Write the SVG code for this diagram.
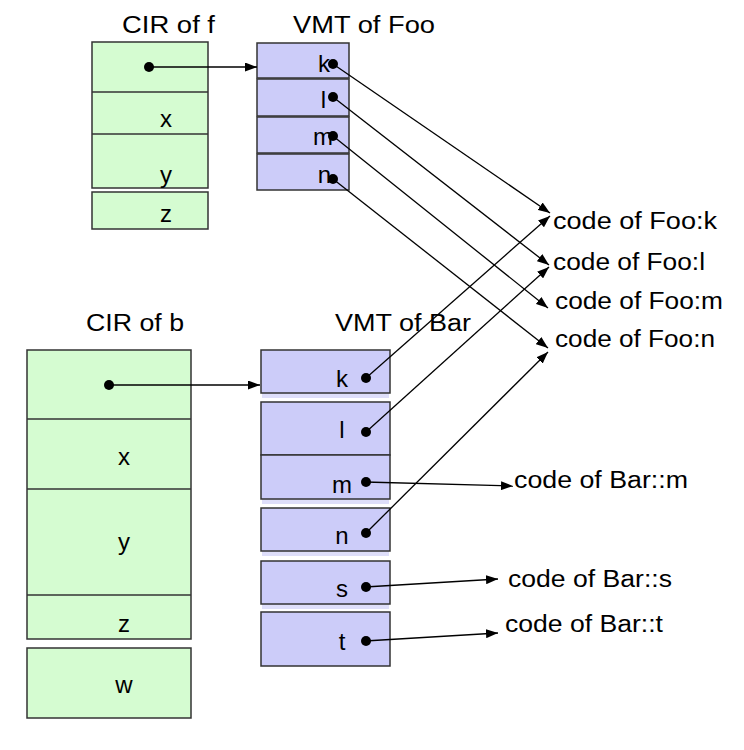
<svg xmlns="http://www.w3.org/2000/svg" width="744" height="750" viewBox="0 0 744 750">
<style>
text{font-family:"Liberation Sans",Arial,sans-serif;font-size:23px;fill:#000}
.cir{fill:#d5fcd1;stroke:#333;stroke-width:1.5}
.vmt{fill:#ccccf9;stroke:#333;stroke-width:1.5}
.gap{fill:#dedefa}
.div{stroke:#333;stroke-width:1.5}
.c{text-anchor:middle;font-size:24px}
.e{text-anchor:end;font-size:24px}
.ln{stroke:#000;stroke-width:1.3;fill:none;marker-end:url(#ah)}
.dot{fill:#000}
</style>
<defs>
<marker id="ah" viewBox="0 0 12 9" refX="12" refY="4.5" markerWidth="12" markerHeight="9" markerUnits="userSpaceOnUse" orient="auto">
<path d="M0,0 L12,4.5 L0,9 Z" fill="#000"/>
</marker>
</defs>
<rect width="744" height="750" fill="#fff"/>

<g id="cir-f">
<text x="122" y="33" textLength="93" lengthAdjust="spacingAndGlyphs">CIR of f</text>
<rect class="cir" x="92" y="42" width="116" height="146"/>
<line class="div" x1="92" y1="92" x2="208" y2="92"/>
<line class="div" x1="92" y1="134" x2="208" y2="134"/>
<rect class="cir" x="92" y="192" width="116" height="37"/>
<text class="c" x="166" y="127">x</text>
<text class="c" x="166" y="183">y</text>
<text class="c" x="166" y="222">z</text>
</g>

<g id="vmt-foo">
<text x="293" y="33" textLength="142" lengthAdjust="spacingAndGlyphs">VMT of Foo</text>
<rect class="vmt" x="257" y="43" width="92" height="35"/>
<rect class="vmt" x="257" y="79" width="92" height="37"/>
<rect class="vmt" x="257" y="117" width="92" height="36"/>
<rect class="vmt" x="257" y="154" width="92" height="36"/>
<text class="e" x="330" y="72">k</text>
<text class="e" x="326" y="108">l</text>
<text class="e" x="333" y="145">m</text>
<text class="e" x="331" y="183">n</text>
</g>

<g id="cir-b">
<text x="86" y="331" textLength="98" lengthAdjust="spacingAndGlyphs">CIR of b</text>
<rect class="cir" x="27" y="350" width="164" height="289"/>
<line class="div" x1="27" y1="419" x2="191" y2="419"/>
<line class="div" x1="27" y1="489" x2="191" y2="489"/>
<line class="div" x1="27" y1="595" x2="191" y2="595"/>
<rect class="cir" x="27" y="648" width="164" height="70"/>
<text class="c" x="124" y="465">x</text>
<text class="c" x="124" y="550">y</text>
<text class="c" x="124" y="632">z</text>
<text class="c" x="124" y="693">w</text>
</g>

<g id="vmt-bar">
<text x="335" y="331" textLength="136" lengthAdjust="spacingAndGlyphs">VMT of Bar</text>
<rect class="gap" x="262" y="393" width="127" height="5"/>
<rect class="gap" x="262" y="499" width="127" height="5"/>
<rect class="gap" x="262" y="551" width="127" height="5"/>
<rect class="gap" x="262" y="604" width="127" height="5"/>
<rect class="vmt" x="261" y="350" width="129" height="43"/>
<rect class="vmt" x="261" y="402" width="129" height="53"/>
<rect class="vmt" x="261" y="455" width="129" height="44"/>
<rect class="vmt" x="261" y="508" width="129" height="43"/>
<rect class="vmt" x="261" y="561" width="129" height="43"/>
<rect class="vmt" x="261" y="612" width="129" height="54"/>
<text class="c" x="342" y="387">k</text>
<text class="c" x="342" y="438">l</text>
<text class="c" x="342" y="493">m</text>
<text class="c" x="342" y="544">n</text>
<text class="c" x="342" y="597">s</text>
<text class="c" x="342" y="650">t</text>
</g>

<g id="code-labels">
<text x="553" y="229" textLength="164" lengthAdjust="spacingAndGlyphs">code of Foo:k</text>
<text x="553" y="270" textLength="152" lengthAdjust="spacingAndGlyphs">code of Foo:l</text>
<text x="555" y="309" textLength="168" lengthAdjust="spacingAndGlyphs">code of Foo:m</text>
<text x="555" y="347" textLength="160" lengthAdjust="spacingAndGlyphs">code of Foo:n</text>
<text x="514" y="488" textLength="174" lengthAdjust="spacingAndGlyphs">code of Bar::m</text>
<text x="508" y="587" textLength="164" lengthAdjust="spacingAndGlyphs">code of Bar::s</text>
<text x="505" y="632" textLength="158" lengthAdjust="spacingAndGlyphs">code of Bar::t</text>
</g>

<g id="connectors">
<line class="ln" x1="149" y1="67" x2="257" y2="67"/>
<line class="ln" x1="109" y1="385" x2="260" y2="385"/>
<line class="ln" x1="333" y1="64" x2="550" y2="213"/>
<line class="ln" x1="333" y1="97" x2="549" y2="265"/>
<line class="ln" x1="333" y1="136" x2="548" y2="308"/>
<line class="ln" x1="333" y1="179" x2="548" y2="348"/>
<line class="ln" x1="366" y1="378" x2="550" y2="216"/>
<line class="ln" x1="366" y1="432" x2="549" y2="267"/>
<line class="ln" x1="366" y1="533" x2="548" y2="352"/>
<line class="ln" x1="365" y1="482" x2="513" y2="486"/>
<line class="ln" x1="365" y1="587" x2="498" y2="579"/>
<line class="ln" x1="365" y1="641" x2="498" y2="633"/>
<circle class="dot" cx="149" cy="67" r="5"/>
<circle class="dot" cx="109" cy="385" r="5"/>
<circle class="dot" cx="333" cy="64" r="5"/>
<circle class="dot" cx="333" cy="97" r="5"/>
<circle class="dot" cx="333" cy="136" r="5"/>
<circle class="dot" cx="333" cy="179" r="5"/>
<circle class="dot" cx="366" cy="378" r="5"/>
<circle class="dot" cx="366" cy="432" r="5"/>
<circle class="dot" cx="366" cy="482" r="5"/>
<circle class="dot" cx="366" cy="533" r="5"/>
<circle class="dot" cx="366" cy="587" r="5"/>
<circle class="dot" cx="366" cy="641" r="5"/>
</g>
</svg>
